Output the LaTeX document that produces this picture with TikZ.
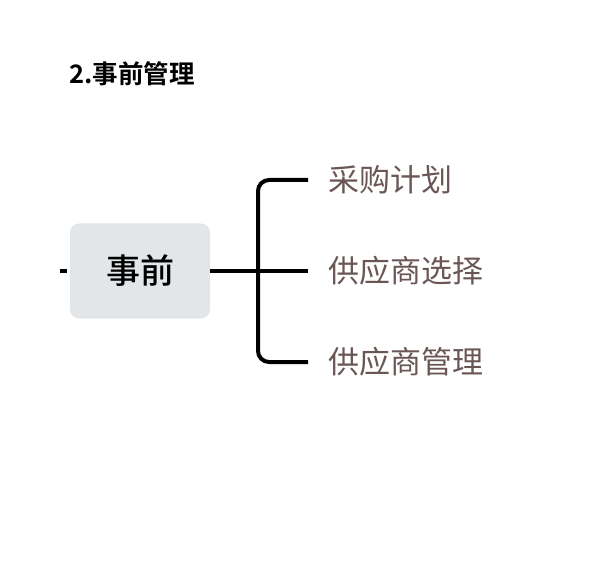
\documentclass[tikz,border=0pt]{standalone}
\usepackage{fontspec}
\setmainfont{Noto Sans CJK SC}
\newfontfamily\cjkbold{Noto Sans CJK SC Bold}
\newfontfamily\cjkmedium{Noto Sans CJK SC Medium}
\usetikzlibrary{positioning, calc}
\definecolor{boxgray}{HTML}{E2E6E8}
\definecolor{leafbrown}{HTML}{6B5656}
\begin{document}
\begin{tikzpicture}[
  x=1pt, y=1pt,
  title/.style={
    anchor=west,
    inner sep=0pt,
    font=\cjkbold\fontsize{25.5}{25.5}\selectfont
  },
  topic/.style={
    fill=boxgray,
    minimum width=140pt,
    minimum height=95pt,
    rounded corners=9pt,
    font=\cjkmedium\fontsize{34}{34}\selectfont
  },
  leaf/.style={
    anchor=west,
    inner sep=0pt,
    text=leafbrown,
    font=\fontsize{31}{31}\selectfont
  },
  branch/.style={line width=4pt, black}
]
\useasboundingbox (0,0) rectangle (596,576);

% Title
\node[title] (head) at (69,502) {2.事前管理};

% Topic and leaves
\node[topic] (pre) at (140,305) {事前};
\node[leaf] (plan) at (328,396) {采购计划};
\node[leaf] (select) at (328,305) {供应商选择};
\node[leaf] (manage) at (328,214) {供应商管理};

% Connectors
\coordinate (stub) at (60,305);
\coordinate (fork) at (258,305);
\draw[branch] (stub) -- ($(pre.west)+(-3,0)$);
\draw[branch] (pre.east) -- ($(select.west)+(-20,0)$);
\draw[branch, rounded corners=11pt]
  ($(plan.west)+(-20,0)$) -- (fork |- plan.west)
  -- (fork |- manage.west) -- ($(manage.west)+(-20,0)$);

\end{tikzpicture}
\end{document}
